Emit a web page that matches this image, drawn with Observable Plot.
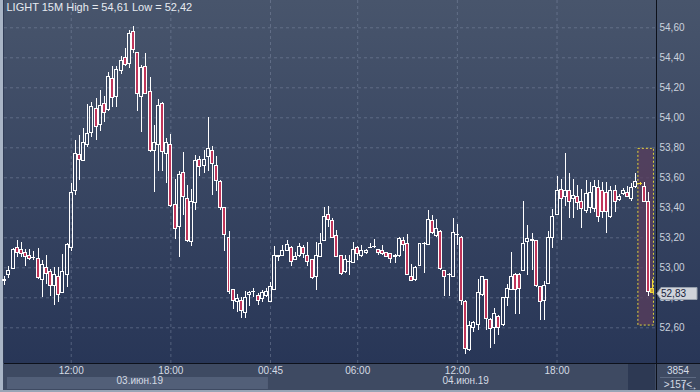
<!DOCTYPE html>
<html><head><meta charset="utf-8">
<script src="https://cdn.jsdelivr.net/npm/d3@7"></script>
<script src="https://cdn.jsdelivr.net/npm/@observablehq/plot@0.6"></script>
<style>html,body{margin:0;padding:0;background:#2f3b55;overflow:hidden}#chart{width:700px;height:392px}</style>
</head><body><div id="chart"></div>
<script>
const symbol = "LIGHT", period = "15M";
const open = [52.91,52.95,52.99,53.13,53.12,53.10,53.08,53.07,53.06,52.92,
53.00,52.97,52.88,52.94,52.83,52.95,53.13,53.51,53.75,53.71,
53.82,53.90,54.06,53.95,54.09,54.05,54.26,54.14,54.31,54.40,
54.36,54.57,54.43,54.14,54.34,54.17,53.78,53.82,54.09,53.76,
53.82,53.42,53.27,53.63,53.46,53.17,53.43,53.72,53.68,53.74,
53.78,53.68,53.57,53.40,53.20,52.85,52.77,52.78,52.70,52.82,
52.84,52.81,52.79,52.81,52.77,52.85,53.07,53.08,53.11,53.13,
53.05,53.08,53.13,53.08,53.05,52.94,53.07,53.18,53.35,53.31,
53.21,53.08,52.97,53.04,53.03,53.13,53.08,53.10,53.13,53.14,
53.12,53.11,53.10,53.09,53.07,53.08,53.18,53.16,52.94,52.92,
53.01,53.16,53.15,53.31,53.21,53.24,52.98,52.95,52.94,53.22,
53.20,52.77,52.45,52.60,52.62,52.82,52.92,52.65,52.60,52.67,
52.62,52.80,52.85,52.95,52.95,52.98,53.17,53.18,53.18,52.87,
52.78,52.89,53.20,53.35,53.52,53.47,53.51,53.46,53.47,53.44,
53.38,53.40,53.39,53.53,53.51,53.50,53.34,53.51,53.45,53.49,
53.50,53.46,53.54,53.56,53.54,53.44,52.86];
const high = [52.94,53.01,53.13,53.18,53.17,53.12,53.12,53.11,53.13,53.05,
53.08,52.99,53.00,53.00,53.09,53.16,53.56,53.85,53.88,53.93,
54.09,54.10,54.13,54.18,54.14,54.30,54.34,54.34,54.41,54.46,
54.58,54.61,54.43,54.35,54.43,54.27,53.95,54.12,54.10,53.86,
53.89,53.59,53.64,53.77,53.55,53.52,53.75,53.74,53.78,54.00,
53.81,53.74,53.58,53.40,53.24,52.85,52.82,52.80,52.84,52.84,
52.86,52.83,52.85,52.86,52.90,53.14,53.08,53.15,53.18,53.14,
53.10,53.16,53.15,53.17,53.05,53.17,53.23,53.40,53.41,53.33,
53.25,53.08,53.08,53.08,53.17,53.14,53.15,53.12,53.16,53.19,
53.12,53.15,53.10,53.09,53.09,53.20,53.20,53.22,53.02,53.01,
53.16,53.17,53.38,53.35,53.32,53.25,52.98,52.96,53.33,53.29,
53.21,52.78,52.64,52.64,52.92,52.94,52.92,52.66,52.73,52.68,
52.80,52.89,53.10,52.96,52.96,53.44,53.28,53.23,53.18,52.87,
52.91,53.24,53.39,53.61,53.59,53.76,53.63,53.59,53.55,53.52,
53.58,53.57,53.58,53.58,53.57,53.57,53.54,53.55,53.49,53.53,
53.54,53.56,53.63,53.57,53.57,53.50,52.92];
const low = [52.88,52.93,52.99,53.07,53.07,53.01,53.05,53.05,52.92,52.80,
52.89,52.81,52.75,52.77,52.83,52.87,53.11,53.48,53.58,53.71,
53.80,53.87,53.85,53.91,53.97,54.04,54.07,54.07,54.29,54.34,
54.33,54.43,54.04,53.90,54.16,53.77,53.50,53.64,53.64,53.56,
53.40,53.19,53.07,53.35,53.17,53.14,53.38,53.61,53.63,53.64,
53.48,53.51,53.38,53.11,52.82,52.72,52.70,52.66,52.66,52.74,
52.80,52.75,52.77,52.80,52.77,52.85,53.04,53.08,53.11,53.01,
53.05,53.07,53.06,53.01,52.92,52.85,53.07,53.18,53.27,53.20,
53.07,52.95,52.96,52.95,53.03,53.05,53.07,53.09,53.13,53.13,
53.08,53.08,53.07,53.03,53.03,53.07,53.11,52.95,52.91,52.91,
53.01,52.96,53.15,53.22,53.20,52.98,52.81,52.81,52.94,53.15,
52.75,52.42,52.44,52.57,52.58,52.81,52.58,52.46,52.49,52.55,
52.61,52.74,52.85,52.69,52.69,52.98,52.95,52.98,52.87,52.65,
52.65,52.89,53.13,53.35,53.18,53.41,53.33,53.33,53.38,53.26,
53.36,53.36,53.37,53.30,53.33,53.23,53.33,53.37,53.44,53.48,
53.47,53.44,53.53,53.55,53.44,52.81,52.83];
const close = [52.92,52.98,53.12,53.10,53.09,53.07,53.06,53.07,52.93,53.02,
52.96,52.88,52.95,52.82,52.97,53.15,53.50,53.76,53.72,53.83,
53.89,54.07,53.94,54.08,54.03,54.27,54.13,54.32,54.38,54.35,
54.56,54.45,54.16,54.33,54.16,53.78,53.83,54.08,53.77,53.83,
53.41,53.26,53.62,53.47,53.18,53.44,53.71,53.67,53.72,53.79,
53.69,53.58,53.40,53.22,52.84,52.78,52.79,52.71,52.80,52.83,
52.84,52.78,52.83,52.84,52.87,53.08,53.08,53.11,53.15,53.04,
53.07,53.14,53.09,53.04,52.93,53.08,53.16,53.34,53.32,53.20,
53.07,52.96,53.05,53.04,53.12,53.09,53.11,53.11,53.135,53.14,
53.10,53.09,53.07,53.06,53.08,53.19,53.15,52.95,52.91,53.00,
53.16,53.16,53.32,53.23,53.26,52.99,52.94,52.955,53.23,53.22,
52.78,52.46,52.61,52.63,52.83,52.94,52.66,52.59,52.69,52.60,
52.80,52.86,52.94,52.85,52.86,53.16,53.19,53.185,52.88,52.77,
52.88,53.20,53.34,53.51,53.46,53.51,53.44,53.48,53.43,53.39,
53.49,53.50,53.54,53.34,53.37,53.37,53.51,53.44,53.47,53.51,
53.47,53.53,53.57,53.56,53.44,52.84,52.83];

const timeTicks = [16, 40, 64, 85, 109, 133];
const timeLabels = ["12:00", "18:00", "00:45", "06:00", "12:00", "18:00"];
const dayStarts = [0, 64];
const dayLabels = ["03.июн.19", "04.июн.19"];
const priceTicks = [52.6, 52.8, 53.0, 53.2, 53.4, 53.6, 53.8, 54.0, 54.2, 54.4, 54.6];
const selection = [{from: 153, to: 156, low: 52.615, high: 53.793}];
const liveBars = [153, 156];
const volumeLabel = "3854";

const n = close.length;
const fmt = v => v.toFixed(2).replace(".", ",");
const WHITE = "#ffffff", RED = "#c0355a", YELLOW = "#f2d83a";
const candles = d3.range(n).map(i => ({
  i, o: open[i], h: high[i], l: low[i], c: close[i],
  up: close[i] >= open[i], live: liveBars.includes(i)
}));
const dojis = candles.filter(d => Math.abs(d.o - d.c) < 0.004);
const days = dayStarts.map((s, k) => ({start: s, end: k + 1 < dayStarts.length ? dayStarts[k + 1] - 1 : n - 1, label: dayLabels[k]}));
const title = `${symbol} ${period} High = ${fmt(d3.max(high))} Low = ${fmt(d3.min(low))}`;
const FONT = "'Liberation Sans', Arial, sans-serif";

function chrome(index, scales, values, dim) {
  const {width, height, marginLeft, marginRight, marginBottom} = dim;
  const px = width - marginRight, py = height - marginBottom;
  const g = d3.create("svg:g");
  const grad = g.append("defs").append("linearGradient").attr("id", "bgGrad").attr("x1", 0).attr("y1", 0).attr("x2", 0).attr("y2", 1);
  grad.append("stop").attr("offset", "0%").attr("stop-color", "#48556c");
  grad.append("stop").attr("offset", "100%").attr("stop-color", "#283657");
  g.append("rect").attr("x", marginLeft).attr("y", 0).attr("width", px - marginLeft).attr("height", py).attr("fill", "url(#bgGrad)");
  g.append("rect").attr("x", px).attr("y", 0).attr("width", marginRight).attr("height", py).attr("fill", "url(#bgGrad)");
  g.append("rect").attr("x", 0).attr("y", py).attr("width", width).attr("height", marginBottom).attr("fill", "#3e4a62");
  const d0 = days[0];
  const bx1 = Math.max(marginLeft + 3, scales.x(d0.start - 0.5)), bx2 = scales.x(d0.end + 0.5);
  g.append("rect").attr("x", bx1).attr("y", py + 14).attr("width", bx2 - bx1).attr("height", 12).attr("fill", "#525f78");
  g.append("rect").attr("x", px - 28).attr("y", py + 1).attr("width", 27).attr("height", 26).attr("fill", "#2d3953");
  g.append("rect").attr("x", 0).attr("y", 0).attr("width", 3).attr("height", height).attr("fill", "#a9b5c6");
  g.append("rect").attr("x", 0).attr("y", height - 2).attr("width", width).attr("height", 2).attr("fill", "#98a4b6");
  g.append("line").attr("x1", marginLeft).attr("x2", width).attr("y1", py + 0.5).attr("y2", py + 0.5).attr("stroke", "#0d111b");
  g.append("line").attr("x1", px + 0.5).attr("x2", px + 0.5).attr("y1", 0).attr("y2", height - 2).attr("stroke", "#0d111b");
  return g.node();
}

function foreground(index, scales, values, dim) {
  const {width, height, marginRight, marginBottom} = dim;
  const px = width - marginRight, py = height - marginBottom;
  const g = d3.create("svg:g").attr("font-family", FONT).attr("font-size", 10);
  const last = close[n - 1];
  const y = Math.round(scales.y(last)) + 0.5;
  g.append("path")
    .attr("d", `M${px + 1},${y} L${px + 5},${y - 6} L${width - 3},${y - 6} L${width - 3},${y + 6} L${px + 5},${y + 6} Z`)
    .attr("fill", "#cfd3da").attr("stroke", "#98a1ae");
  g.append("text").attr("x", px + 5).attr("y", y).attr("dy", "0.35em").attr("text-anchor", "start").attr("fill", "#17223b").text(fmt(last));
  const cx = px + marginRight / 2;
  g.append("text").attr("x", cx).attr("y", py + 7).attr("dy", "0.35em").attr("text-anchor", "middle").attr("fill", "#d5dbe4").text(volumeLabel);
  g.append("line").attr("x1", px + 4).attr("x2", width - 4).attr("y1", py + 14.5).attr("y2", py + 14.5).attr("stroke", "#5d6a82");
  g.append("text").attr("x", cx).attr("y", py + 21).attr("dy", "0.35em").attr("text-anchor", "middle").attr("fill", "#d5dbe4").text(`>${n}<`);
  return g.node();
}

const chart = Plot.plot({
  width: 700, height: 392,
  marginLeft: 4, marginRight: 44, marginTop: 0, marginBottom: 29,
  style: {background: "transparent", fontFamily: FONT, fontSize: "10px", color: "#cbd2dd"},
  x: {type: "linear", domain: [-0.07, 156.96], axis: null},
  y: {type: "linear", domain: [52.362, 54.782], axis: null},
  color: {type: "identity"},
  marks: [
    chrome,
    Plot.ruleY(priceTicks, {stroke: "#8493ab", strokeOpacity: 0.45, strokeDasharray: "3,3"}),
    Plot.ruleX(timeTicks, {stroke: "#8493ab", strokeOpacity: 0.45, strokeDasharray: "3,3"}),
    Plot.rect(selection, {x1: d => d.from - 0.4, x2: d => d.to + 0.35, y1: "low", y2: "high", fill: "#5a3e5c", fillOpacity: 0.75, stroke: "#e0d43a", strokeDasharray: "2,2"}),
    Plot.ruleX(candles, {x: "i", y1: "h", y2: d => Math.max(d.o, d.c), stroke: d => d.live ? YELLOW : WHITE, shapeRendering: "crispEdges"}),
    Plot.ruleX(candles, {x: "i", y1: d => Math.min(d.o, d.c), y2: "l", stroke: d => d.live ? YELLOW : WHITE, shapeRendering: "crispEdges"}),
    Plot.rect(candles, {x1: d => d.i - 0.36, x2: d => d.i + 0.36, y1: "o", y2: "c",
      fill: d => d.live ? "#c99a3c" : d.up ? "none" : RED, stroke: d => d.live ? YELLOW : WHITE, shapeRendering: "crispEdges"}),
    Plot.ruleY(dojis, {y: "c", x1: d => d.i - 0.5, x2: d => d.i + 0.5, stroke: d => d.live ? YELLOW : WHITE, shapeRendering: "crispEdges"}),
    Plot.axisY({anchor: "right", ticks: priceTicks, tickFormat: fmt, tickSize: 0, tickPadding: 3, fill: "#cbd2dd"}),
    Plot.axisX({anchor: "bottom", ticks: timeTicks, tickFormat: i => timeLabels[timeTicks.indexOf(i)], tickSize: 0, tickPadding: 3, fill: "#d5dbe4"}),
    Plot.text(days, {x: d => (d.start + d.end) / 2 + 1, frameAnchor: "bottom", dy: 20, text: "label", fill: "#d5dbe4"}),
    Plot.text([title], {frameAnchor: "top-left", dx: 2, dy: 3, lineAnchor: "top", fontSize: 11, fill: "#e6eaf0"}),
    foreground
  ]
});
document.getElementById("chart").appendChild(chart);
</script>
</body></html>
